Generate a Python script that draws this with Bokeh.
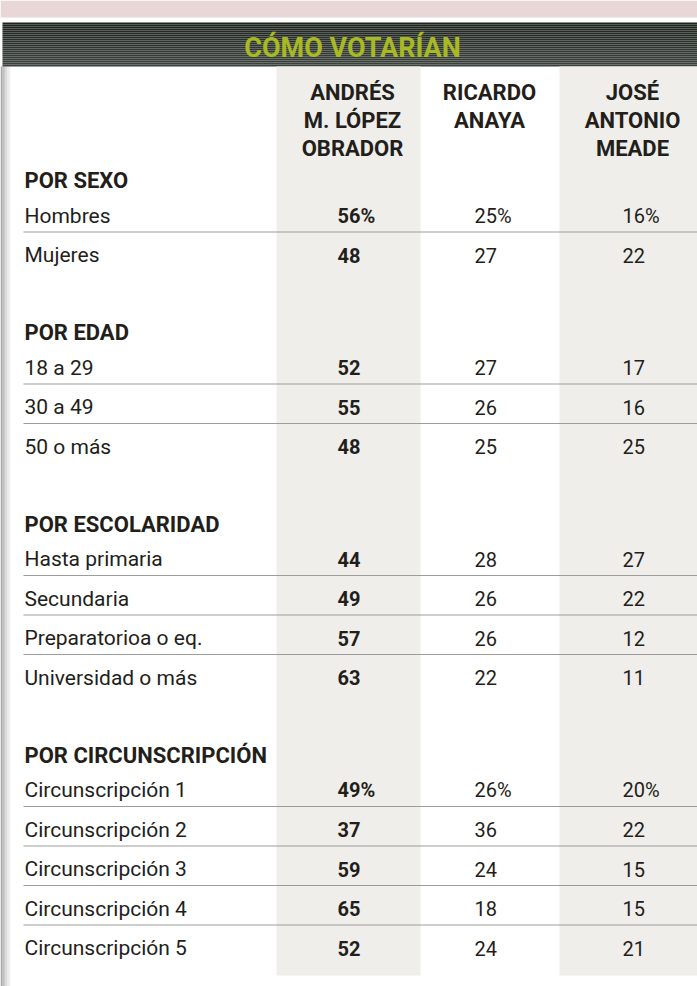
from bokeh.plotting import figure
from bokeh.models import Range1d
from bokeh.embed import file_html
from bokeh.resources import INLINE
from bokeh.core.properties import value

# ---------------- data ----------------
title = "CÓMO VOTARÍAN"
candidates = [["ANDRÉS", "M. LÓPEZ", "OBRADOR"],
              ["RICARDO", "ANAYA"],
              ["JOSÉ", "ANTONIO", "MEADE"]]
groups = ["POR SEXO", "POR EDAD", "POR ESCOLARIDAD", "POR CIRCUNSCRIPCIÓN"]
group_rows = [
    ["Hombres", "Mujeres"],
    ["18 a 29", "30 a 49", "50 o más"],
    ["Hasta primaria", "Secundaria", "Preparatorioa o eq.", "Universidad o más"],
    ["Circunscripción 1", "Circunscripción 2", "Circunscripción 3",
     "Circunscripción 4", "Circunscripción 5"],
]
lopez = [56, 48, 52, 55, 48, 44, 49, 57, 63, 49, 37, 59, 65, 52]
anaya = [25, 27, 27, 26, 25, 28, 26, 26, 22, 26, 36, 24, 18, 24]
meade = [16, 22, 17, 16, 25, 27, 22, 12, 11, 20, 22, 15, 15, 21]
pct_first = [True, False, False, True]   # which groups show "%" on their first row

# ---------------- styling / layout ----------------
FONT = "Roboto"
TXT = "#231e1a"
W, H = 697, 986

p = figure(width=W, height=H, output_backend="svg", toolbar_location=None,
           x_range=Range1d(0, W), y_range=Range1d(H, 0),
           x_axis_location=None, y_axis_location=None, min_border=0,
           background_fill_color="white", border_fill_color="white")
p.grid.visible = False
p.outline_line_color = None

# top pink strip
p.quad(left=[0], right=[697], top=[0], bottom=[17], fill_color="#e9d6d7", line_color=None)

# left page-edge shadow
edge_cols = ["#a9a9a9", "#b9b9b9", "#cacaca", "#dadada", "#e9e9e9", "#f4f4f4"]
p.quad(left=[i * 1.7 for i in range(6)], right=[(i + 1) * 1.7 for i in range(6)],
       top=[66] * 6, bottom=[986] * 6, fill_color=edge_cols, line_color=None)

# header bar gradient
n = 22
c0 = (0x1e, 0x23, 0x1d)
c1 = (0x3c, 0x43, 0x3d)
tops, bots, cols = [], [], []
for i in range(n):
    t = i / (n - 1)
    c = tuple(int(round(a + (b - a) * t)) for a, b in zip(c0, c1))
    tops.append(22 + i * 2)
    bots.append(22 + i * 2 + 2)
    cols.append("#%02x%02x%02x" % c)
p.quad(left=[2] * n, right=[697] * n, top=tops, bottom=bots, fill_color=cols, line_color=None)

p.text(x=[352], y=[47], text=[title], text_font=value(FONT), text_font_size="27px",
       text_font_style="bold", text_color="#a9b922", text_align="center", text_baseline="middle")

# column backgrounds
p.quad(left=[276, 559], right=[420, 697], top=[66, 66], bottom=[975, 975],
       fill_color="#efeeeb", line_color=None)

# candidate headers
col_centers = [352, 489, 632]
hx, hy, ht = [], [], []
for cx, lines in zip(col_centers, candidates):
    for j, ln in enumerate(lines):
        hx.append(cx)
        hy.append(92 + j * 28)
        ht.append(ln)
p.text(x=hx, y=hy, text=ht, text_font=value(FONT), text_font_size="22px",
       text_font_style="bold", text_color=TXT, text_align="center", text_baseline="middle")

# rows
val_left = [337, 474, 622]
gx, gy, gt = [], [], []
lx, ly, lt = [], [], []
sep_y = []
vx = {0: [], 1: [], 2: []}
vy = {0: [], 1: [], 2: []}
vt = {0: [], 1: [], 2: []}
series = [lopez, anaya, meade]
k = 0
header_y = 180
for g, (gname, rows) in enumerate(zip(groups, group_rows)):
    gx.append(24); gy.append(header_y); gt.append(gname)
    for i, r in enumerate(rows):
        ry = header_y + 35 + i * 39.5
        lx.append(24); ly.append(ry); lt.append(r)
        for c in range(3):
            s = str(series[c][k]) + ("%" if (i == 0 and pct_first[g]) else "")
            vx[c].append(val_left[c]); vy[c].append(ry); vt[c].append(s)
        if i < len(rows) - 1:
            sep_y.append(ry + 16.5)
        k += 1
    header_y = ry + 77.5

p.segment(x0=[23] * len(sep_y), x1=[697] * len(sep_y), y0=sep_y, y1=sep_y,
          line_color="#9c9c9c", line_width=1)

p.text(x=gx, y=gy, text=gt, text_font=value(FONT), text_font_size="22px",
       text_font_style="bold", text_color=TXT, text_baseline="middle")
p.text(x=lx, y=ly, text=lt, text_font=value(FONT), text_font_size="21px",
       text_color=TXT, text_baseline="middle")
for c in range(3):
    p.text(x=vx[c], y=vy[c], text=vt[c], text_font=value(FONT), text_font_size="20px",
           text_font_style="bold" if c == 0 else "normal", text_color=TXT,
           text_baseline="middle")

open("out.html", "w").write(file_html(p, INLINE))
